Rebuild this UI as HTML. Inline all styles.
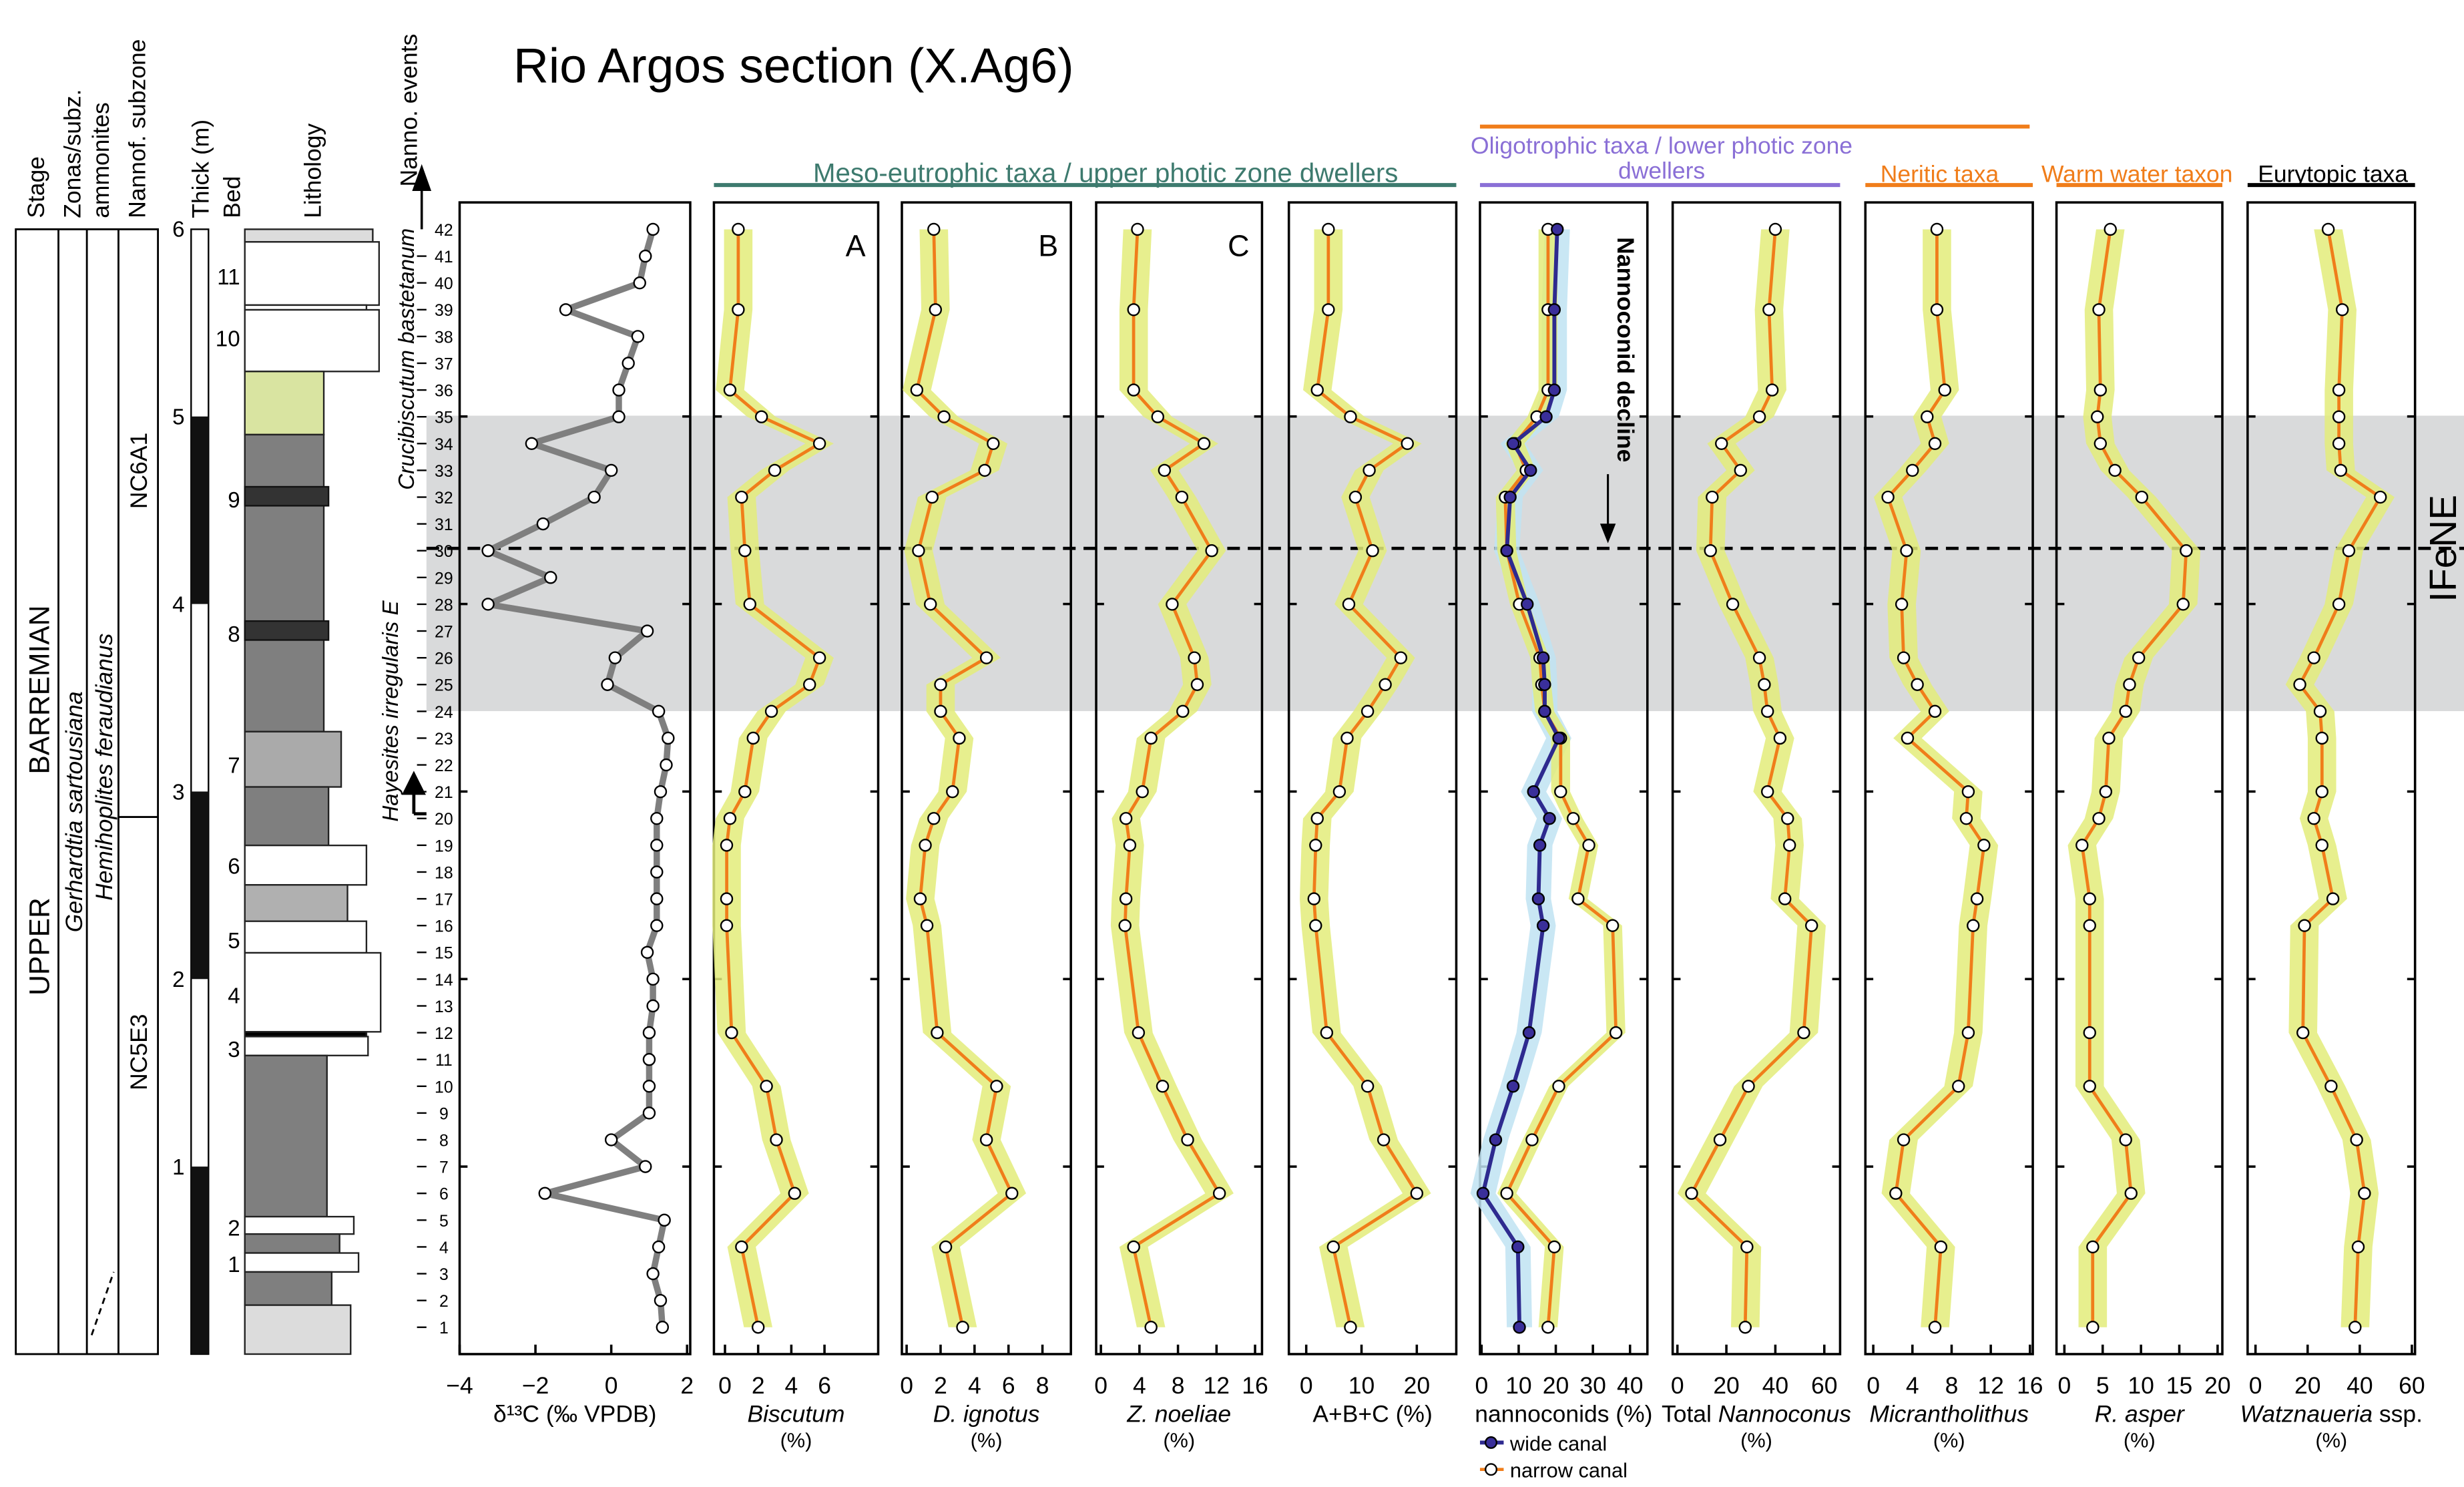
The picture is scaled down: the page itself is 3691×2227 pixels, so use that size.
<!DOCTYPE html>
<html><head><meta charset="utf-8"><style>
html,body{margin:0;padding:0;background:#fff;}
svg{display:block;font-family:"Liberation Sans",Arial,sans-serif;}
</style></head><body>
<svg id="c" width="3691" height="2227" viewBox="0 0 1560 941" xmlns="http://www.w3.org/2000/svg">
<rect x="0" y="0" width="1560" height="941" fill="#fff"/>
<text x="325" y="52" font-size="31">Rio Argos section (X.Ag6)</text>
<g id="bg"></g>
<g id="left"></g>
<g id="plots"></g>
</svg>
<script>
// ---------- DATA ----------
const sampleIds = [42,39,36,35,34,33,32,30,28,26,25,24,23,21,20,19,17,16,12,10,8,6,4,1];
const d13cSamples = [42,41,40,39,38,37,36,35,34,33,32,31,30,29,28,27,26,25,24,23,22,21,20,19,18,17,16,15,14,13,12,11,10,9,8,7,6,5,4,3,2,1];
const d13cValues = [1.1,0.9,0.75,-1.2,0.7,0.45,0.2,0.2,-2.1,0,-0.45,-1.8,-3.25,-1.6,-3.25,0.95,0.1,-0.1,1.25,1.5,1.45,1.3,1.2,1.2,1.2,1.2,1.2,0.95,1.1,1.1,1.0,1.0,1.0,1.0,0,0.9,-1.75,1.4,1.25,1.1,1.3,1.35];
const biscutum = [0.8,0.8,0.3,2.2,5.7,3.0,1.0,1.2,1.5,5.7,5.1,2.8,1.7,1.2,0.3,0.1,0.1,0.1,0.4,2.5,3.1,4.2,1.0,2.0];
const dIgnotus = [1.6,1.7,0.6,2.2,5.1,4.6,1.5,0.7,1.4,4.7,2.0,2.0,3.1,2.7,1.6,1.1,0.8,1.2,1.8,5.3,4.7,6.2,2.3,3.3];
const zNoeliae = [3.8,3.4,3.4,5.9,10.7,6.6,8.4,11.5,7.4,9.7,10.0,8.5,5.2,4.3,2.6,3.0,2.6,2.5,3.9,6.4,9.0,12.3,3.4,5.2];
const abc = [4,4,2,8,18.3,11.4,8.9,12,7.7,17.1,14.3,11.1,7.4,6,2,1.7,1.4,1.7,3.7,11.1,14,20,4.9,8];
const wideCanal = [20.4,19.6,19.6,17.4,8.5,13.2,7.7,6.8,12.3,16.6,17,17,20.8,14,18.3,15.7,15.3,16.6,12.8,8.5,3.8,0.4,9.8,10.2];
const narrowCanal = [17.9,17.9,17.9,14.9,9,12,6.4,6.8,10.2,15.7,16.2,17,21.3,21.3,24.7,28.9,26,35.3,36.2,20.8,13.6,6.8,19.6,17.9];
const totalNannoconus = [40,37.4,38.7,33.5,18,25.8,14.2,13.5,22.6,33.5,35.5,36.8,41.9,36.8,45,45.8,43.9,54.8,51.6,29,17.4,5.8,28.4,27.7];
const micrantholithus = [6.5,6.5,7.3,5.5,6.3,4,1.5,3.4,2.9,3.1,4.5,6.3,3.5,9.7,9.5,11.3,10.6,10.2,9.7,8.7,3.1,2.3,6.9,6.3];
const rAsper = [6,4.5,4.7,4.3,4.7,6.6,10.1,15.9,15.5,9.7,8.5,8,5.8,5.4,4.5,2.3,3.3,3.3,3.3,3.3,8,8.7,3.7,3.7];
const watznaueria = [27.9,33.3,32,32,32,32.7,47.9,35.8,32,22.4,17,24.8,25.5,25.5,22.4,25.5,29.7,18.8,18.2,29,38.8,41.8,39.4,38.2];
const d13cTicks = [-4,-2,0,2];
const biscTicks = [0,2,4,6];
const ignTicks = [0,2,4,6,8];
const zTicks = [0,4,8,12,16];
const abcTicks = [0,10,20];
const nannoTicks = [0,10,20,30,40];
const totTicks = [0,20,40,60];
const micTicks = [0,4,8,12,16];
const aspTicks = [0,5,10,15,20];
const watTicks = [0,20,40,60];

const NS = "http://www.w3.org/2000/svg";
function mk(parent, tag, attrs, text){
  const e = document.createElementNS(NS, tag);
  for (const k in attrs) e.setAttribute(k, attrs[k]);
  if (text !== undefined) e.textContent = text;
  parent.appendChild(e);
  return e;
}
const ys = n => 840 - (n-1)*16.95;
const thickY = m => 857 - m*118.7;
const bg = document.getElementById('bg');
const left = document.getElementById('left');
const plots = document.getElementById('plots');

// background band + dashed line
let band = mk(bg,'rect',{x:270,y:263,width:1290,height:187,fill:'#d9dadb'});


let dl = mk(bg,'line',{x1:270,y1:347,x2:1560,y2:347,stroke:'#000','stroke-width':2,'stroke-dasharray':'8,5'});


let ife = mk(bg,'text',{x:1555,y:347,'font-size':24,'text-anchor':'middle',transform:'rotate(-90 1555 347)'}, 'IFeNE');



// ---------- left stratigraphic columns ----------
function rtext(x,y,t,size,extra){
  const a = Object.assign({x:x,y:y,'font-size':size,transform:`rotate(-90 ${x} ${y})`}, extra||{});
  return mk(left,'text',a,t);
}
let hd;
hd = rtext(28,138,'Stage',15);  
hd = rtext(51,138,'Zonas/subz.',15);  
hd = rtext(69,138,'ammonites',15);  
hd = rtext(92,138,'Nannof. subzone',15);  
hd = rtext(132,138,'Thick (m)',15);  
hd = rtext(152,138,'Bed',15);  
hd = rtext(203,138,'Lithology',15);  
hd = rtext(264,118,'Nanno. events',15);  

let tbl = mk(left,'g',{stroke:'#000','stroke-width':1.2,fill:'none'});


mk(tbl,'rect',{x:10,y:145,width:90,height:712});
mk(tbl,'line',{x1:37,y1:145,x2:37,y2:857});
mk(tbl,'line',{x1:55,y1:145,x2:55,y2:857});
mk(tbl,'line',{x1:75,y1:145,x2:75,y2:857});
mk(tbl,'line',{x1:75,y1:517,x2:100,y2:517});
mk(tbl,'line',{x1:58,y1:845,x2:72,y2:805,'stroke-dasharray':'4,3'});
hd = rtext(31,490,'BARREMIAN',18);  
hd = rtext(31,630,'UPPER',18);  
hd = rtext(52,590,'Gerhardtia sartousiana',15,{'font-style':'italic'});  
hd = rtext(71,570,'Hemihoplites feraudianus',15,{'font-style':'italic'});  
hd = rtext(93,322,'NC6A1',15);  
hd = rtext(93,690,'NC5E3',15);  

// thickness bar
let tb = mk(left,'rect',{x:121,y:145,width:11,height:712,fill:'#fff',stroke:'#000','stroke-width':1});


[[5,4],[3,2],[1,0]].forEach(([a,b])=>{
  const r = mk(left,'rect',{x:121,y:thickY(a),width:11,height:thickY(b)-thickY(a),fill:'#111'});
  
  
});
[1,2,3,4,5,6].forEach(m=>{
  const t = mk(left,'text',{x:113,y:thickY(m)+5,'font-size':14,'text-anchor':'middle'}, String(m));
  
  
});

// lithology blocks [y0,y1,xRight,fill]
const litho = [[145,153,236,'#dcdcdc'],[153,193,240,'#fff'],[193,196,232,'#fff'],[196,235,240,'#fff'],[235,275,205,'#d9e4a1'],
 [275,463,205,'#7f7f7f'],[463,498,216,'#aaaaaa'],[498,535,208,'#7f7f7f'],[535,560,232,'#fff'],[560,583,220,'#b0b0b0'],
 [583,603,232,'#fff'],[603,653,241,'#fff'],[653,656,232,'#000'],[656,668,233,'#fff'],[668,770,207,'#7f7f7f'],
 [770,781,224,'#fff'],[781,793,215,'#7f7f7f'],[793,805,227,'#fff'],[805,826,210,'#7f7f7f'],[826,857,222,'#dcdcdc']];
litho.forEach(b=>{
  const r = mk(left,'rect',{x:155,y:b[0],width:b[2]-155,height:b[1]-b[0],fill:b[3],stroke:'#222','stroke-width':1});
  
  
});
[[308,320],[393,405]].forEach(b=>{
  const r = mk(left,'rect',{x:155,y:b[0],width:53,height:b[1]-b[0],fill:'#333',stroke:'#111'});
  
  
});
const beds = [[11,175],[10,214],[9,316],[8,401],[7,484],[6,548],[5,595],[4,630],[3,664],[2,777],[1,800]];
beds.forEach(b=>{
  const t = mk(left,'text',{x:152,y:b[1]+5,'font-size':14,'text-anchor':'end'}, String(b[0]));
  
  
});
// sample numbers
for (let n=1;n<=42;n++){
  const t = mk(left,'text',{x:281,y:ys(n)+4,'font-size':10.5,'text-anchor':'middle'}, String(n));
  
  
  if (n<42){ const l = mk(left,'line',{x1:264,y1:ys(n),x2:270,y2:ys(n),stroke:'#000'});
  
   }
}
hd = rtext(262,310,'Crucibiscutum bastetanum',14,{'font-style':'italic'});  
hd = rtext(252,520,'Hayesites irregularis E',14,{'font-style':'italic'});  
let ar = mk(left,'path',{d:'M267 145 V112 M262 120 L267 106 L272 120 Z',stroke:'#000','stroke-width':1.5,fill:'#000'});


ar = mk(left,'path',{d:'M262 515 V495 M256 502 L262 490 L268 502 Z M262 515 H270',stroke:'#000','stroke-width':2,fill:'#000'});



// ---------- panels ----------
const panels = [
 {name:'d13c',x0:291,x1:437,v0:-4,px:24,ticks:d13cTicks,title:'δ¹³C (‰ VPDB)',it:false},
 {name:'biscutum',x0:452,x1:556,v0:0,px:10.5,ticks:biscTicks,title:'Biscutum',it:true,sub:'(%)',data:biscutum,letter:'A'},
 {name:'d-ignotus',x0:571,x1:678,v0:0,px:10.75,ticks:ignTicks,title:'D. ignotus',it:true,sub:'(%)',data:dIgnotus,letter:'B'},
 {name:'z-noeliae',x0:694,x1:799,v0:0,px:6.1,ticks:zTicks,title:'Z. noeliae',it:true,sub:'(%)',data:zNoeliae,letter:'C'},
 {name:'abc',x0:816,x1:922,v0:0,px:3.5,ticks:abcTicks,title:'A+B+C (%)',it:false,data:abc},
 {name:'nannoconids',x0:937,x1:1043,v0:0,px:2.35,ticks:nannoTicks,title:'nannoconids (%)',it:false},
 {name:'total-nannoconus',x0:1059,x1:1165,v0:0,px:1.55,ticks:totTicks,title:'Nannoconus',pre:'Total ',it:true,sub:'(%)',data:totalNannoconus},
 {name:'micrantholithus',x0:1181,x1:1287,v0:0,px:6.2,ticks:micTicks,title:'Micrantholithus',it:true,sub:'(%)',data:micrantholithus},
 {name:'r-asper',x0:1302,x1:1407,v0:0,px:4.85,ticks:aspTicks,title:'R. asper',it:true,sub:'(%)',data:rAsper},
 {name:'watznaueria',x0:1423,x1:1529,v0:0,px:1.65,ticks:watTicks,title:'Watznaueria',post:' ssp.',it:true,sub:'(%)',data:watznaueria}
];
const xo = {'d13c':387,'biscutum':459,'d-ignotus':574,'z-noeliae':697,'abc':827,'nannoconids':938,'total-nannoconus':1062,'micrantholithus':1186,'r-asper':1307,'watznaueria':1428};
function xs(p,v){ return xo[p.name] + v*p.px; }

function envelope(g,p,samples,vals,w,fill){
  const L = samples.map((s,i)=>[xs(p,vals[i])-w, ys(s)]);
  const R = samples.map((s,i)=>[xs(p,vals[i])+w, ys(s)]).reverse();
  const e = mk(g,'polygon',{points:L.concat(R).map(q=>q.join(',')).join(' '),fill:fill,opacity:0.85});
  
  
}
function series(g,p,samples,vals,stroke,dotFill,sw){
  const pts = samples.map((s,i)=>xs(p,vals[i]).toFixed(1)+','+ys(s).toFixed(1)).join(' ');
  const l = mk(g,'polyline',{points:pts,fill:'none',stroke:stroke,'stroke-width':sw,'stroke-linejoin':'round'});
  
  
  samples.forEach((s,i)=>{
    const c = mk(g,'circle',{cx:xs(p,vals[i]),cy:ys(s),r:3.6,fill:dotFill,stroke:'#000','stroke-width':1});
    
    
  });
}

panels.forEach(p=>{
  const g = mk(plots,'g',{});
  
  
  const fr = mk(g,'rect',{x:p.x0,y:128,width:p.x1-p.x0,height:729,fill:'none',stroke:'#000','stroke-width':1.5});
  
  
  [1,2,3,4,5].forEach(m=>{
    mk(g,'line',{x1:p.x0,y1:thickY(m),x2:p.x0+5,y2:thickY(m),stroke:'#000','stroke-width':1.5});
    mk(g,'line',{x1:p.x1-5,y1:thickY(m),x2:p.x1,y2:thickY(m),stroke:'#000','stroke-width':1.5});
  });
  p.ticks.forEach(t=>{
    const x = xs(p,t);
    mk(g,'line',{x1:x,y1:857,x2:x,y2:851,stroke:'#000','stroke-width':1.5});
    const tl = mk(g,'text',{x:x,y:882,'font-size':15,'text-anchor':'middle'}, String(t).replace('-','−'));
    
    
  });
  const cx = (p.x0+p.x1)/2;
  const tt = mk(g,'text',{x:cx,y:900,'font-size':15,'text-anchor':'middle'});
  
  
  if (p.pre) mk(tt,'tspan',{},p.pre);
  mk(tt,'tspan',p.it?{'font-style':'italic'}:{},p.title);
  if (p.post) mk(tt,'tspan',{},p.post);
  if (p.sub){ const s = mk(g,'text',{x:cx,y:916,'font-size':13,'text-anchor':'middle'},p.sub);
      }
  if (p.letter){ const s = mk(g,'text',{x:p.x1-8,y:162,'font-size':19,'text-anchor':'end'},p.letter);
      }
  if (p.name==='d13c'){
    series(g,p,d13cSamples,d13cValues,'#7f7f7f','#fff',4);
  } else if (p.name==='nannoconids'){
    envelope(g,p,sampleIds,wideCanal,8,'#bfe3f2');
    envelope(g,p,sampleIds,narrowCanal,6,'#e3ec7a');
    series(g,p,sampleIds,narrowCanal,'#f07d1a','#fff',2);
    series(g,p,sampleIds,wideCanal,'#2e2a8f','#3a2f9a',2.5);
  } else {
    envelope(g,p,sampleIds,p.data,9,'#e3ec7a');
    series(g,p,sampleIds,p.data,'#f07d1a','#fff',2);
  }
});

// nannoconid decline annotation
let nd = mk(plots,'text',{x:1024,y:150,'font-size':15,'font-weight':'bold',transform:'rotate(90 1024 150)'},'Nannoconid decline');


nd = mk(plots,'path',{d:'M1018 300 V335 M1014 332 L1018 342 L1022 332 Z',stroke:'#000','stroke-width':1.3,fill:'#000'});



// legend
let lg = mk(plots,'g',{});


mk(lg,'line',{x1:937,y1:913,x2:952,y2:913,stroke:'#2e2a8f','stroke-width':2.5});
mk(lg,'circle',{cx:944,cy:913,r:3.5,fill:'#3a2f9a',stroke:'#000'});
let le = mk(lg,'text',{x:956,y:918,'font-size':13},'wide canal');


mk(lg,'line',{x1:937,y1:930,x2:952,y2:930,stroke:'#f07d1a','stroke-width':2});
mk(lg,'circle',{cx:944,cy:930,r:3.5,fill:'#fff',stroke:'#000'});
le = mk(lg,'text',{x:956,y:935,'font-size':13},'narrow canal');



// group headers
const headers = [
 ['Meso-eutrophic taxa / upper photic zone dwellers',700,115,'#3d7a6e',452,922,117,17],
 ['Neritic taxa',1228,115,'#f07d1a',1181,1287,117,15],
 ['Warm water taxon',1353,115,'#f07d1a',1302,1407,117,15],
 ['Eurytopic taxa',1477,115,'#000',1423,1529,117,15]
];
headers.forEach(h=>{
  const t = mk(plots,'text',{x:h[1],y:h[2],'font-size':h[7],fill:h[3],'text-anchor':'middle'},h[0]);
  
  
  const l = mk(plots,'line',{x1:h[4],y1:h[6],x2:h[5],y2:h[6],stroke:h[3],'stroke-width':2.5});
  
  
});
let ol = mk(plots,'text',{x:1052,y:97,'font-size':15,fill:'#8a6fd6','text-anchor':'middle'},'Oligotrophic taxa / lower photic zone');


ol = mk(plots,'text',{x:1052,y:113,'font-size':15,fill:'#8a6fd6','text-anchor':'middle'},'dwellers');


ol = mk(plots,'line',{x1:937,y1:117,x2:1165,y2:117,stroke:'#8a6fd6','stroke-width':2.5});


ol = mk(plots,'line',{x1:937,y1:80,x2:1285,y2:80,stroke:'#f07d1a','stroke-width':2.5});


</script>
</body></html>
